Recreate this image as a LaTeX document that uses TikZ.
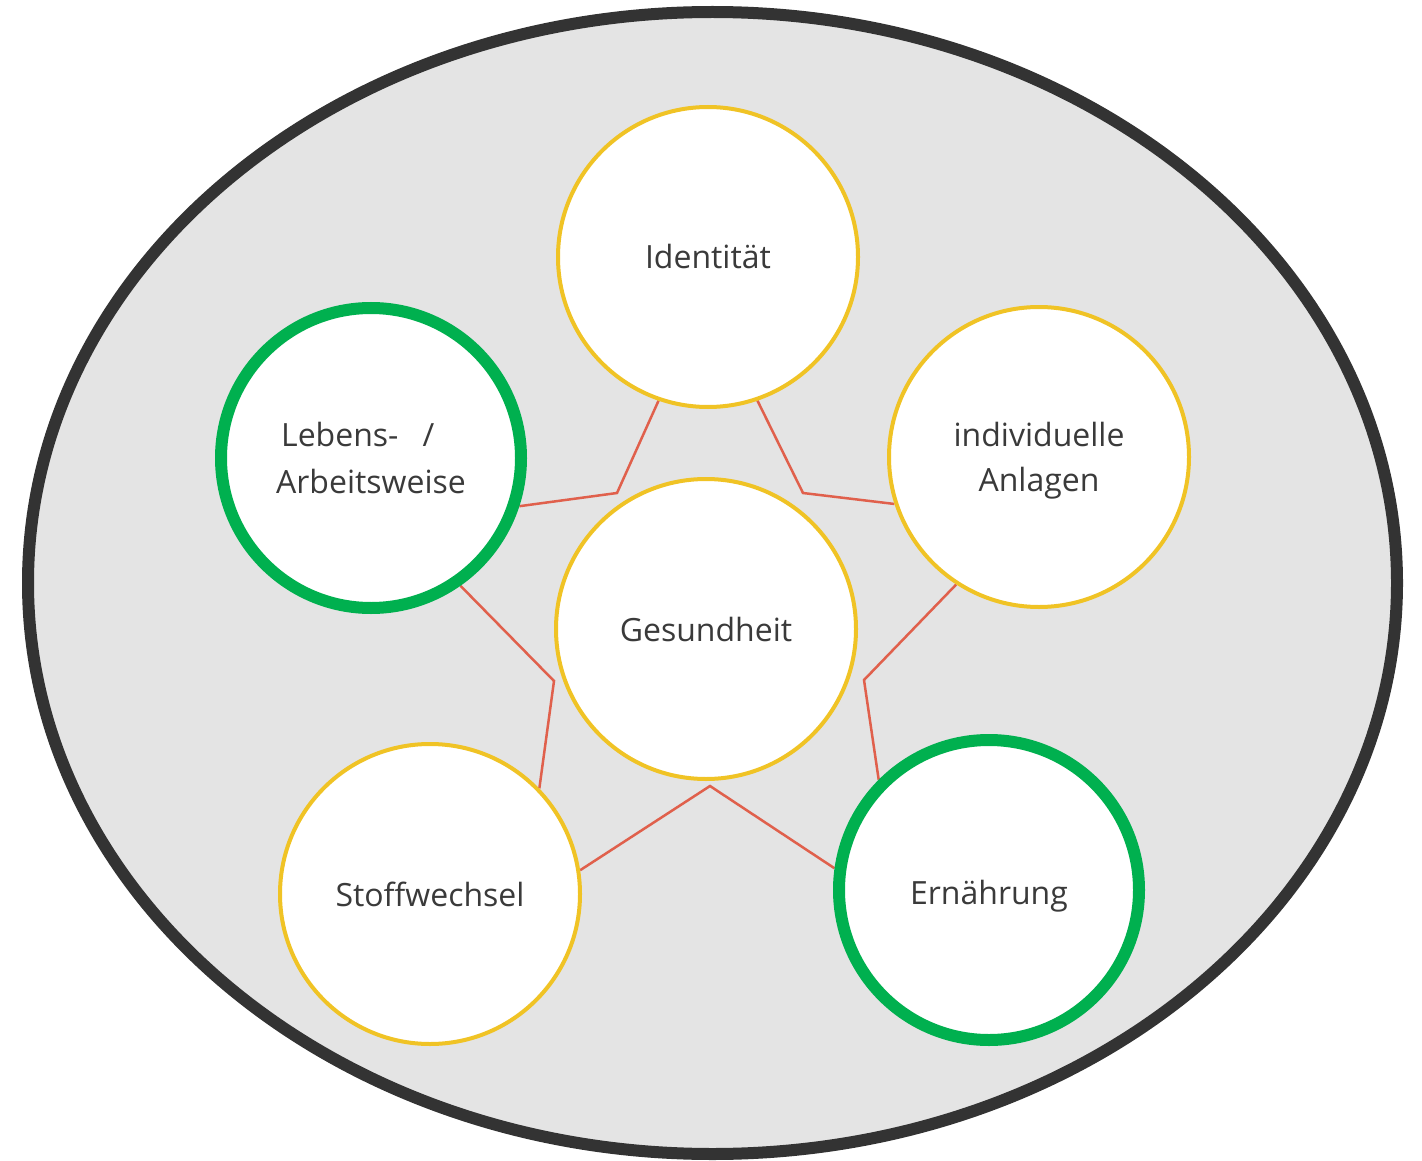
\documentclass[tikz,border=0pt]{standalone}
\usepackage{fontspec}
\setmainfont{Open Sans}
\pgfdeclarelayer{back}
\pgfdeclarelayer{mid}
\pgfsetlayers{back,mid,main}
\definecolor{ringgray}{HTML}{333333}
\definecolor{panelgray}{HTML}{E4E4E4}
\definecolor{sunyellow}{HTML}{F0C325}
\definecolor{leafgreen}{HTML}{00B04F}
\definecolor{linkred}{HTML}{E0604C}
\definecolor{textgray}{HTML}{3A3A3A}
\tikzset{
  topic/.style={circle, fill=white, draw=sunyellow, line width=4pt,
    minimum size=300pt, inner sep=0pt, text=textgray,
    font=\fontsize{32}{45}\selectfont, align=center},
  marked/.style={topic, draw=leafgreen, line width=12pt},
  caption/.style={text=textgray, font=\fontsize{32}{45}\selectfont, inner sep=0pt},
  link/.style={draw=linkred, line width=2.5pt, line join=miter}
}
\begin{document}
\begin{tikzpicture}[x=1pt,y=-1pt]
\useasboundingbox (0,0) rectangle (1422,1161);
\begin{pgfonlayer}{back}
  \draw[fill=panelgray, draw=ringgray, line width=12pt]
    (712.5,583) ellipse [x radius=684.5, y radius=571];
\end{pgfonlayer}

% topic circles
\node[topic]  (ges) at (706,629) {Gesundheit};
\node[topic]  (idn) at (708,257) {Identität};
\node[topic]  (ind) at (1039,457) {};
\node[marked] (leb) at (371,458) {};
\node[topic]  (sto) at (430,894) {Stoffwechsel};
\node[marked] (ern) at (989,890) {};

% two-line and offset captions
\node[caption, align=center] (indtext) at (1039,461) {individuelle\\Anlagen};
\node[caption, align=left, font=\fontsize{32}{47}\selectfont]
  (lebtext) at (371,458) {\hspace{5pt}Lebens-\hspace{24pt}/\\Arbeitsweise};
\node[caption] (erntext) at (989,896) {Ernährung};

% inner corners of the star
\coordinate (p1) at (617,493);
\coordinate (p2) at (803,493);
\coordinate (p3) at (864,680);
\coordinate (p4) at (710,786);
\coordinate (p5) at (554,681);

\begin{pgfonlayer}{mid}
  \draw[link] (idn.251.6) -- (p1) -- (leb.342);
  \draw[link] (idn.289.9) -- (p2) -- (ind.198.5);
  \draw[link] (ind.237.8) -- (p3) -- (ern.135.8);
  \draw[link] (ern.172)   -- (p4) -- (sto.9);
  \draw[link] (sto.44.2)  -- (p5) -- (leb.305);
\end{pgfonlayer}
\end{tikzpicture}
\end{document}
